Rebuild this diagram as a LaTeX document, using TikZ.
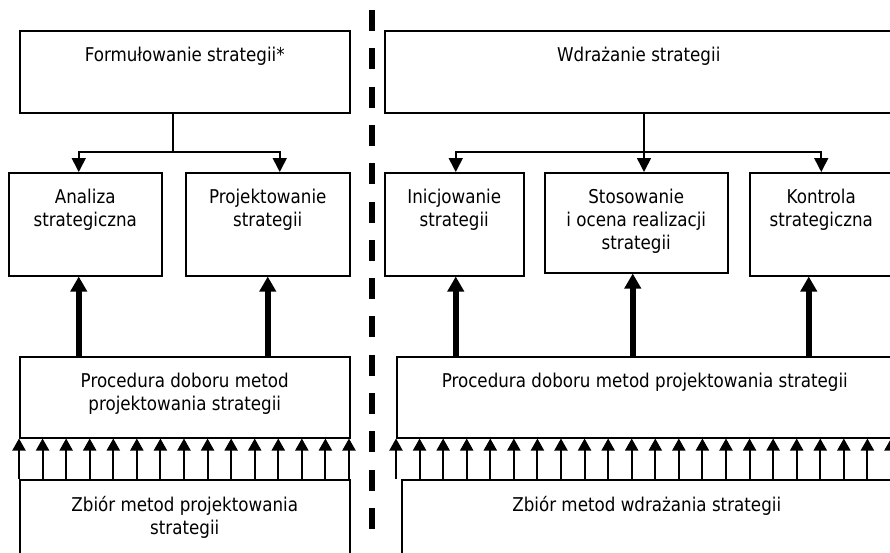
\documentclass[tikz,border=0pt]{standalone}
\usepackage{fontspec}
\setmainfont{DejaVu Sans}[FakeStretch=0.88]
\usetikzlibrary{arrows.meta, positioning, calc}
\tikzset{
  box/.style    = {draw, line width=1.5pt, rectangle, inner sep=0pt, anchor=north west},
  lbl/.style    = {anchor=north, yshift=-17, inner sep=0pt, align=center,
                   font=\fontsize{19}{23}\selectfont},
  link/.style   = {line width=1.6pt},
  arr/.style    = {-{Triangle[length=14pt,width=14pt]}, line width=1.6pt},
  bigarr/.style = {-{Triangle[length=15pt,width=16pt]}, line width=5.5pt},
  tarr/.style   = {-{Triangle[length=12pt,width=13pt]}, line width=2pt},
  sep/.style    = {line width=5.5pt, dash pattern=on 21pt off 17.3pt},
}

\begin{document}
\begin{tikzpicture}[x=1pt, y=-1pt]
  \useasboundingbox (0,0) rectangle (890,552);

  % left half: formulation
  \node[box, minimum width=330, minimum height=82,
        label={[lbl]north:Formułowanie strategii*}] (form) at (19,30) {};
  \node[box, minimum width=153, minimum height=103,
        label={[lbl]north:Analiza\\strategiczna}] (anal) at (8,172) {};
  \node[box, minimum width=164, minimum height=103,
        label={[lbl]north:Projektowanie\\strategii}] (proj) at (185,172) {};
  \node[box, minimum width=330, minimum height=81,
        label={[lbl]north:Procedura doboru metod\\projektowania strategii}] (procL) at (19,356) {};
  \node[box, minimum width=330, minimum height=110,
        label={[lbl]north:Zbiór metod projektowania\\strategii}] (zbiorL) at (19,479) {};

  % right half: implementation
  \node[box, minimum width=508, minimum height=82,
        label={[lbl]north:Wdrażanie strategii}] (wdr) at (384,30) {};
  \node[box, minimum width=139, minimum height=103,
        label={[lbl]north:Inicjowanie\\strategii}] (inic) at (384,172) {};
  \node[box, minimum width=183, minimum height=100,
        label={[lbl]north:Stosowanie\\i ocena realizacji\\strategii}] (stos) at (544,172) {};
  \node[box, minimum width=143, minimum height=103,
        label={[lbl]north:Kontrola\\strategiczna}] (kontr) at (749,172) {};
  \node[box, minimum width=496, minimum height=81,
        label={[lbl]north:Procedura doboru metod projektowania strategii}] (procR) at (396,356) {};
  \node[box, minimum width=490, minimum height=110,
        label={[lbl]north:Zbiór metod wdrażania strategii}] (zbiorR) at (401,479) {};

  % separator
  \coordinate (septop) at (372,10);
  \coordinate (sepbot) at (372,529);
  \draw[sep] (septop) -- (sepbot);

  % top-down links
  \coordinate (fsplit) at (173,152);
  \draw[link] (form.south -| fsplit) -- (fsplit);
  \draw[arr] (fsplit) -| ([xshift=-6.5]anal.north);
  \draw[arr] (fsplit) -| ([xshift=12]proj.north);

  \coordinate (wsplit) at (644,152);
  \draw[link, line width=2.4pt] (wdr.south -| wsplit) -- (wsplit);
  \draw[arr] (wsplit) -| ([xshift=1.5]inic.north);
  \draw[arr] (wsplit) -- (wsplit |- stos.north);
  \draw[arr] (wsplit) -| (kontr.north);

  % procedures feed the stages
  \coordinate (aup) at ([xshift=-6.5]anal.south);
  \coordinate (kup) at ([xshift=-12.5]kontr.south);
  \draw[bigarr] (aup |- procL.north) -- (aup);
  \draw[bigarr] (proj.south |- procL.north) -- (proj.south);
  \draw[bigarr] ([xshift=1.5]inic.south |- procR.north) -- ([xshift=1.5]inic.south);
  \draw[bigarr] ([xshift=-3.5]stos.south |- procR.north) -- ([xshift=-3.5]stos.south);
  \draw[bigarr] (kup |- procR.north) -- (kup);

  % method sets feed the procedures
  \foreach \i in {0,...,14}
    \draw[tarr] ([xshift=\i*23.57]zbiorL.north west) -- ([xshift=\i*23.57]procL.south west);
  \foreach \i in {0,...,21}
    \draw[tarr] ([xshift=\i*23.57-5]zbiorR.north west) -- ([xshift=\i*23.57]procR.south west);
\end{tikzpicture}
\end{document}
